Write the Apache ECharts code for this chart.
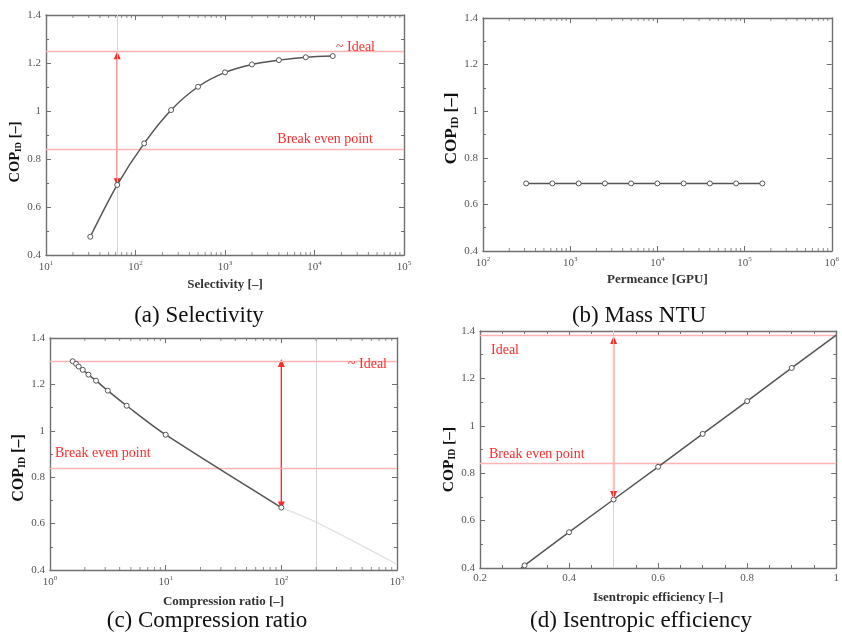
<!DOCTYPE html>
<html>
<head>
<meta charset="utf-8">
<script src="https://cdn.jsdelivr.net/npm/echarts@6/dist/echarts.min.js"></script>
<style>
  html, body { margin: 0; background: #fff; }
  #main { width: 842px; height: 636px; }
</style>
</head>
<body>
<div id="main"></div>
<script>
// (a) Selectivity
var selectivity = [31.25, 62.5, 125, 250, 500, 1000, 2000, 4000, 8000, 16000];
var copSelectivity = [0.476, 0.692, 0.865, 1.004, 1.101, 1.161, 1.194, 1.212, 1.224, 1.229];

// (b) Mass NTU (permeance)
var permeance = [312.5, 625, 1250, 2500, 5000, 10000, 20000, 40000, 80000, 160000];
var copPermeance = [0.69, 0.69, 0.69, 0.69, 0.69, 0.69, 0.69, 0.69, 0.69, 0.69];

// (c) Compression ratio
var compRatio = [1.57, 1.68, 1.77, 1.92, 2.15, 2.5, 3.16, 4.6, 10, 100];
var copComp = [1.300, 1.289, 1.277, 1.263, 1.242, 1.216, 1.173, 1.108, 0.983, 0.669];
var compRatioExt = [100, 200, 1000];
var copCompExt = [0.669, 0.606, 0.424];

// (d) Isentropic efficiency
var isenEff = [0.292, 0.3, 0.4, 0.5, 0.6, 0.7, 0.8, 0.9, 1.0];
var copIsen = [0.400, 0.411, 0.551, 0.689, 0.827, 0.966, 1.104, 1.244, 1.383];

// reference lines
var idealA = 1.246, idealC = 1.305, idealD = 1.376;
var breakEven = 0.844;

// arrows: x, from, to
var arrowA = [62.5, 0.703, 1.232];
var arrowC = [100, 0.678, 1.292];
var arrowD = [0.5, 0.708, 1.362];

var yTicks = [0.4, 1.4, 0.2];

var SERIF = "'Liberation Serif', 'DejaVu Serif', serif";
var AXIS_COLOR = '#707070';
var RED = '#ff2b2b';
var RED_LIGHT = '#ffb4b4';

var chart = echarts.init(document.getElementById('main'));

function pairs(xs, ys) {
  return xs.map(function (x, i) { return [x, ys[i]]; });
}

function logLabel(v) {
  return '10{s|' + Math.round(Math.log10(v)) + '}';
}

// minor ticks for log axes at 2..9 of every decade
function logMinor(lo, hi) {
  var out = [];
  for (var d = lo; d < hi; d *= 10) {
    for (var k = 2; k <= 9; k++) {
      out.push({ value: [d * k, yTicks[0]], symbolOffset: [0, -1.5] });
      out.push({ value: [d * k, yTicks[1]], symbolOffset: [0, 1.5] });
    }
  }
  return out;
}

var grids = [
  { left: 46, top: 15, width: 358, height: 240 },
  { left: 483, top: 18, width: 352, height: 233 },
  { left: 50, top: 338, width: 347, height: 232 },
  { left: 480, top: 331, width: 357, height: 237 }
];

var xDefs = [
  { type: 'log', min: 10, max: 100000, name: 'Selectivity [–]', gap: 23 },
  { type: 'log', min: 100, max: 1000000, name: 'Permeance [GPU]', gap: 22 },
  { type: 'log', min: 1, max: 1000, name: 'Compression ratio [–]', gap: 25 },
  { type: 'value', min: 0.2, max: 1, interval: 0.2, name: 'Isentropic efficiency [–]', gap: 23 }
];
// y-axis title: gap, font size, shift along the axis (padding)
var yNames = [
  { gap: 19, size: 14.5, pad: [0, 34, 0, 0] },
  { gap: 8, size: 17, pad: [0, 0, 0, 12] },
  { gap: 13, size: 16, pad: [0, 28, 0, 0] },
  { gap: 11, size: 15.5, pad: [0, 20, 0, 0] }
];

var tickStyle = { inside: true, length: 5, lineStyle: { color: AXIS_COLOR, width: 1 } };
var lineStyle = { lineStyle: { color: AXIS_COLOR, width: 1.4 } };

var xAxis = [], yAxis = [];
grids.forEach(function (g, i) {
  var d = xDefs[i];
  var isLog = d.type === 'log';
  var base = {
    gridIndex: i, type: d.type, min: d.min, max: d.max,
    splitLine: { show: false },
    axisLine: lineStyle,
    axisTick: tickStyle,
    minorTick: { show: !isLog, splitNumber: 4, length: 3, lineStyle: { color: AXIS_COLOR } }
  };
  if (isLog) base.logBase = 10;
  if (d.interval) base.interval = d.interval;
  xAxis.push(Object.assign({}, base, {
    position: 'bottom',
    name: d.name, nameLocation: 'middle', nameGap: d.gap,
    nameTextStyle: { fontFamily: SERIF, fontWeight: 'bold', fontSize: 13, color: '#333' },
    axisLabel: {
      margin: 5, color: '#555', fontFamily: SERIF, fontSize: 11,
      formatter: isLog ? logLabel : null,
      rich: { s: { fontFamily: SERIF, fontSize: 7, color: '#555', padding: [0, 0, 7, 0] } }
    }
  }));
  xAxis.push(Object.assign({}, base, { position: 'top', axisLabel: { show: false } }));

  var yn = yNames[i];
  var ybase = {
    gridIndex: i, type: 'value', min: yTicks[0], max: yTicks[1], interval: yTicks[2],
    splitLine: { show: false },
    axisLine: lineStyle,
    axisTick: tickStyle,
    minorTick: { show: true, splitNumber: 2, length: 3, lineStyle: { color: AXIS_COLOR } }
  };
  yAxis.push(Object.assign({}, ybase, {
    position: 'left',
    name: 'COP{sub|ID} [–]', nameLocation: 'middle', nameGap: yn.gap,
    nameTextStyle: {
      fontFamily: SERIF, fontWeight: 'bold', fontSize: yn.size, color: '#111', padding: yn.pad,
      rich: { sub: { fontFamily: SERIF, fontWeight: 'bold', fontSize: yn.size * 0.62, color: '#111', padding: [7, 0, 0, 0] } }
    },
    axisLabel: { margin: 5, color: '#555', fontFamily: SERIF, fontSize: 11 }
  }));
  yAxis.push(Object.assign({}, ybase, { position: 'right', axisLabel: { show: false } }));
});

function refLine(y, text, pos, dist) {
  return {
    yAxis: y,
    lineStyle: { color: RED_LIGHT, width: 1.3, type: 'solid' },
    label: {
      show: true, formatter: text, position: pos, distance: dist,
      color: RED, fontFamily: SERIF, fontSize: 14
    }
  };
}
function grayLine(x) {
  return { xAxis: x, lineStyle: { color: '#d4d4d4', width: 1, type: 'solid' }, label: { show: false } };
}
function markLines(items) {
  return { silent: true, symbol: ['none', 'none'], animation: false, data: items };
}
// double headed red arrow drawn as a two point line with triangle ends
function arrowSeries(i, a) {
  return {
    type: 'line', xAxisIndex: i * 2, yAxisIndex: i * 2, z: 4, silent: true,
    symbol: 'triangle', symbolSize: [7, 8],
    itemStyle: { color: RED },
    lineStyle: { color: RED, width: 1.4 },
    data: [
      { value: [a[0], a[1]], symbolRotate: 180 },
      { value: [a[0], a[2]] }
    ]
  };
}

var mainLine = {
  type: 'line', symbol: 'circle', symbolSize: 5, showSymbol: true,
  itemStyle: { color: '#fff', borderColor: '#555', borderWidth: 1 },
  lineStyle: { color: '#555', width: 1.5 },
  z: 5
};
function minorSeries(i, lo, hi) {
  return {
    type: 'scatter', xAxisIndex: i * 2, yAxisIndex: i * 2, silent: true, clip: false,
    symbol: 'rect', symbolSize: [1, 3], itemStyle: { color: AXIS_COLOR },
    data: logMinor(lo, hi), z: 6
  };
}

var isenData = pairs(isenEff, copIsen).map(function (p, k) {
  return (k === 0 || k === isenEff.length - 1) ? { value: p, symbol: 'none' } : p;
});

var series = [
  Object.assign({}, mainLine, {
    xAxisIndex: 0, yAxisIndex: 0, smooth: 0.3,
    data: pairs(selectivity, copSelectivity),
    markLine: markLines([
      grayLine(arrowA[0]),
      refLine(idealA, '~ Ideal', 'insideEndTop', [29, -3]),
      refLine(breakEven, 'Break even point', 'insideEndTop', [31, 3])
    ])
  }),
  arrowSeries(0, arrowA),
  minorSeries(0, 10, 100000),
  Object.assign({}, mainLine, {
    xAxisIndex: 2, yAxisIndex: 2,
    data: pairs(permeance, copPermeance)
  }),
  minorSeries(1, 100, 1000000),
  {
    type: 'line', xAxisIndex: 4, yAxisIndex: 4, symbol: 'none', smooth: 0.3,
    lineStyle: { color: '#e2e2e2', width: 1.3 }, z: 2,
    data: pairs(compRatioExt, copCompExt)
  },
  Object.assign({}, mainLine, {
    xAxisIndex: 4, yAxisIndex: 4, smooth: 0.3,
    data: pairs(compRatio, copComp),
    markLine: markLines([
      grayLine(200),
      refLine(idealC, '~ Ideal', 'insideEndBottom', [10, -4]),
      refLine(breakEven, 'Break even point', 'insideStartTop', [5, 8])
    ])
  }),
  arrowSeries(2, arrowC),
  minorSeries(2, 1, 1000),
  Object.assign({}, mainLine, {
    xAxisIndex: 6, yAxisIndex: 6,
    data: isenData,
    markLine: markLines([
      grayLine(arrowD[0]),
      refLine(idealD, 'Ideal', 'insideStartBottom', [11, 8]),
      refLine(breakEven, 'Break even point', 'insideStartTop', [9, 2])
    ])
  }),
  arrowSeries(3, arrowD)
];

var captions = [
  ['(a) Selectivity', 199, 316],
  ['(b) Mass NTU', 639, 316],
  ['(c) Compression ratio', 207, 621],
  ['(d) Isentropic efficiency', 641, 621]
];

chart.setOption({
  animation: false,
  backgroundColor: '#fff',
  grid: grids,
  xAxis: xAxis,
  yAxis: yAxis,
  series: series,
  graphic: captions.map(function (c) {
    return {
      type: 'text', x: c[1], y: c[2],
      style: { text: c[0], fontFamily: SERIF, fontSize: 23, fill: '#111', align: 'center', verticalAlign: 'middle' }
    };
  })
});
</script>
</body>
</html>
